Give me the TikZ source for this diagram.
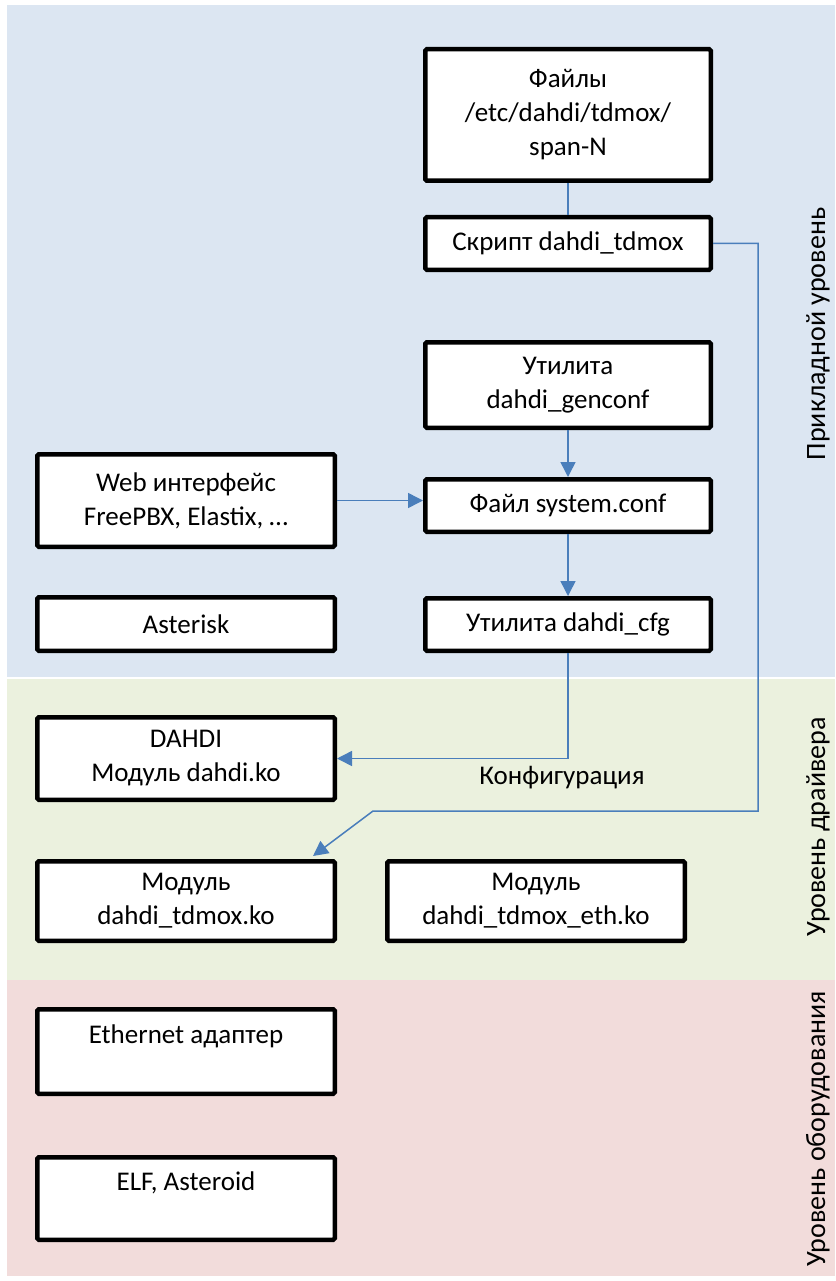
\documentclass[tikz,border=0pt]{standalone}
\usepackage{fontspec}
\setmainfont{Carlito}
\usetikzlibrary{arrows.meta,calc}
\definecolor{bandblue}{HTML}{DCE6F2}
\definecolor{bandgreen}{HTML}{EBF1DE}
\definecolor{bandpink}{HTML}{F2DCDB}
\definecolor{conn}{HTML}{4A7EBB}
\tikzset{
  box/.style={draw=black, line width=4.5pt, fill=white, rounded corners=1.5pt,
    align=center, inner sep=0pt, font=\fontsize{27}{34}\selectfont},
  link/.style={draw=conn, line width=1.5pt},
  arr/.style={link, -{Triangle[length=15pt,width=15pt]}},
  side/.style={rotate=90, font=\fontsize{28}{33}\selectfont},
  plain/.style={font=\fontsize{27}{34}\selectfont}
}
\begin{document}
\begin{tikzpicture}[x=1pt,y=-1pt]
\useasboundingbox (0,0) rectangle (835,1281);
% bands
\fill[bandblue] (7,5) rectangle (835,677);
\fill[bandgreen] (7,679) rectangle (835,980);
\fill[bandpink] (7,980) rectangle (835,1276);
% side labels
\node[side] (lvlapp) at (818,334) {Прикладной уровень};
\node[side] (lvldrv) at (818,827) {Уровень драйвера};
\node[side] (lvlhw) at (818,1129) {Уровень оборудования};
% boxes
\node[box, minimum width=285.5pt, minimum height=131.5pt] (files) at (568,115) {Файлы\\/etc/dahdi/tdmox/\\span-N};
\node[box, minimum width=285.5pt, minimum height=52.5pt] (script) at (568,243.5) {Скрипт dahdi\_tdmox};
\node[box, minimum width=285.5pt, minimum height=85.5pt] (genconf) at (568,385) {Утилита\\dahdi\_genconf};
\node[box, minimum width=285.5pt, minimum height=52.5pt] (sysconf) at (568,505.5) {Файл system.conf};
\node[box, minimum width=285.5pt, minimum height=52.5pt] (cfg) at (568,624.5) {Утилита dahdi\_cfg};
\node[box, minimum width=297.5pt, minimum height=92.5pt] (web) at (186,500.5) {Web интерфейс\\FreePBX, Elastix, …};
\node[box, minimum width=297.5pt, minimum height=53.5pt] (asterisk) at (186,624) {Asterisk};
\node[box, minimum width=297.5pt, minimum height=82.5pt] (dahdi) at (186,758.5) {DAHDI\\Модуль dahdi.ko};
\node[box, minimum width=297.5pt, minimum height=79.5pt] (tdmox) at (186,901) {Модуль\\dahdi\_tdmox.ko};
\node[box, minimum width=297.5pt, minimum height=79.5pt] (eth) at (536,901) {Модуль\\dahdi\_tdmox\_eth.ko};
\node[box, minimum width=297.5pt, minimum height=84.5pt] (ethernet) at (186,1051.5) {Ethernet адаптер\\\mbox{}};
\node[box, minimum width=297.5pt, minimum height=82.5pt] (elf) at (186,1198.5) {ELF, Asteroid\\\mbox{}};
\node[plain] (conf) at (562,778) {Конфигурация};
% connectors
\coordinate (c1) at (758,811);
\coordinate (c2) at (373,811);
\coordinate (tgt) at ($(tdmox.north east)+(-24,-3)$);
\draw[link] (files.south) -- (script.north);
\draw[arr] (script.east) -| (c1) -- (c2) -- (tgt);
\draw[arr] (genconf.south) -- (sysconf.north);
\draw[arr] (web.east) -- (web.east -| sysconf.west);
\draw[arr] (sysconf.south) -- (cfg.north);
\draw[arr] (cfg.south) |- (dahdi.east);
\end{tikzpicture}
\end{document}
